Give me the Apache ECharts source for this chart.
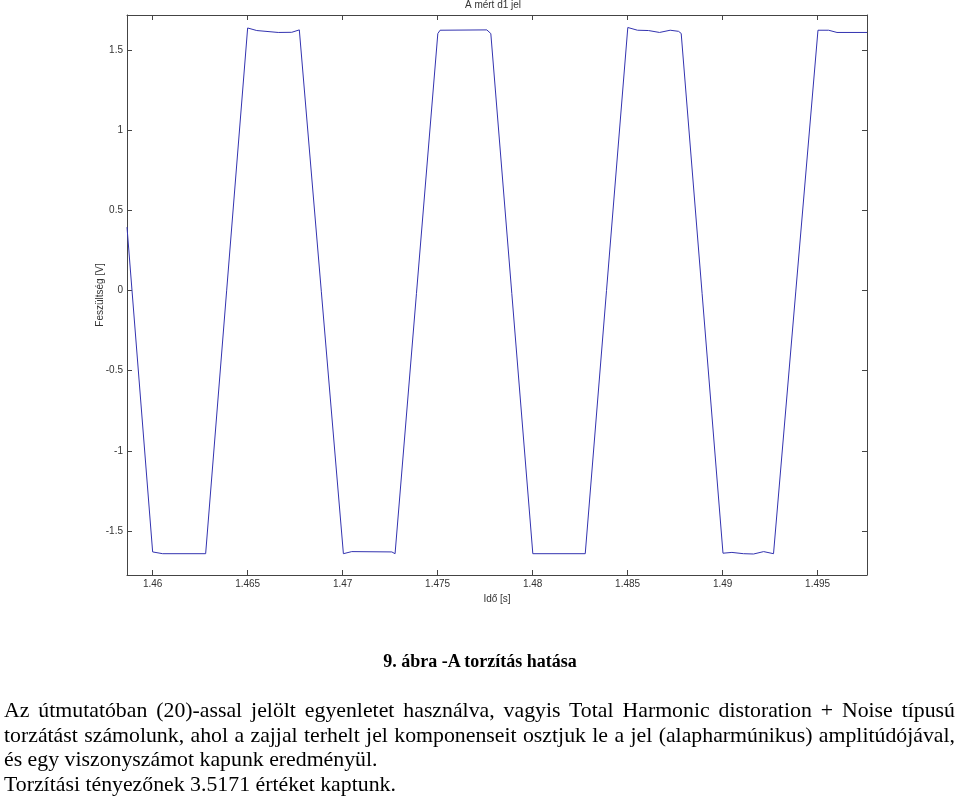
<!DOCTYPE html>
<html>
<head>
<meta charset="utf-8">
<script src="https://cdn.jsdelivr.net/npm/echarts@6/dist/echarts.min.js"></script>
<style>
html,body{margin:0;padding:0;background:#fff;}
#wrap{position:relative;width:960px;height:799px;overflow:hidden;background:#fff;}
#chart{position:absolute;left:0;top:0;width:960px;height:799px;}
.cap{position:absolute;left:0;top:650px;width:960px;text-align:center;font-family:'Liberation Serif','Times New Roman',serif;font-weight:bold;font-size:18px;line-height:22px;color:#000;white-space:nowrap;}
.ln{position:absolute;left:4px;width:951px;font-family:'Liberation Serif','Times New Roman',serif;font-size:21.8px;line-height:24.5px;color:#000;white-space:nowrap;}
.j{text-align:justify;text-align-last:justify;}
</style>
</head>
<body>
<div id="wrap">
<div id="chart"></div>
<div class="cap">9. ábra -A torzítás hatása</div>
<div class="ln j" style="top:698px">Az útmutatóban (20)-assal jelölt egyenletet használva, vagyis Total Harmonic distoration + Noise típusú</div>
<div class="ln j" style="top:722.5px">torzátást számolunk, ahol a zajjal terhelt jel komponenseit osztjuk le a jel (alapharmúnikus) amplitúdójával,</div>
<div class="ln" style="top:747px">és egy viszonyszámot kapunk eredményül.</div>
<div class="ln" style="top:771.5px">Torzítási tényezőnek 3.5171 értéket kaptunk.</div>
</div>
<script>
// Time stamps [s] of the polyline vertices
var timeS = [1.45865, 1.46000, 1.46053, 1.46279, 1.46500, 1.46548, 1.46661, 1.46732, 1.46772,
  1.47004, 1.47048, 1.47259, 1.47276, 1.47501, 1.47513, 1.47759, 1.47780,
  1.48001, 1.48277, 1.48501, 1.48552, 1.48610, 1.48668, 1.48724, 1.48768, 1.48782,
  1.49002, 1.49049, 1.49110, 1.49163, 1.49216, 1.49268, 1.49502, 1.49558, 1.49602, 1.49760];
// Measured voltage [V]
var voltageV = [0.396, -1.631, -1.642, -1.642, 1.639, 1.623, 1.611, 1.612, 1.627,
  -1.642, -1.629, -1.631, -1.642, 1.604, 1.625, 1.627, 1.604,
  -1.642, -1.642, 1.642, 1.625, 1.623, 1.611, 1.625, 1.618, 1.605,
  -1.639, -1.634, -1.642, -1.644, -1.629, -1.642, 1.625, 1.625, 1.611, 1.611];
// Tick values
var xTicks = [1.46, 1.465, 1.47, 1.475, 1.48, 1.485, 1.49, 1.495];
var yTicks = [-1.5, -1, -0.5, 0, 0.5, 1, 1.5];
var xRange = [1.45865, 1.4976];
var yRange = [-1.775, 1.72];

var titleText = 'A mért d1 jel';
var xName = 'Idő [s]';
var yName = 'Feszültség [V]';

var seriesData = timeS.map(function (t, i) { return [t, voltageV[i]]; });

var axisCol = '#444';
var labelFont = { fontFamily: "'Liberation Sans', Arial, sans-serif", fontSize: 10, color: '#333' };

function baseX(pos, showLabel) {
  return {
    type: 'value', position: pos, min: xRange[0], max: xRange[1],
    axisLine: { show: true, onZero: false, lineStyle: { color: axisCol, width: 1 } },
    axisTick: { show: true, inside: true, length: 5, customValues: xTicks, lineStyle: { color: axisCol } },
    axisLabel: Object.assign({ show: showLabel, margin: 4, customValues: xTicks }, labelFont),
    splitLine: { show: false }
  };
}
function baseY(pos, showLabel) {
  return {
    type: 'value', position: pos, min: yRange[0], max: yRange[1],
    axisLine: { show: true, onZero: false, lineStyle: { color: axisCol, width: 1 } },
    axisTick: { show: true, inside: true, length: 5, customValues: yTicks, lineStyle: { color: axisCol } },
    axisLabel: Object.assign({ show: showLabel, margin: 4, customValues: yTicks }, labelFont),
    splitLine: { show: false }
  };
}

var xb = baseX('bottom', true);
xb.name = xName; xb.nameLocation = 'middle'; xb.nameGap = 15;
xb.nameTextStyle = { fontFamily: "'Liberation Sans', Arial, sans-serif", fontSize: 10, color: '#333' };
var xt = baseX('top', false);
var yl = baseY('left', true);
yl.name = yName; yl.nameLocation = 'middle'; yl.nameGap = 22; yl.nameMoveOverlap = false;
yl.nameTextStyle = { fontFamily: "'Liberation Sans', Arial, sans-serif", fontSize: 10, color: '#333' };
var yr = baseY('right', false);

var chart = echarts.init(document.getElementById('chart'), null, { renderer: 'canvas' });
chart.setOption({
  animation: false,
  backgroundColor: '#fff',
  title: {
    text: titleText, left: 493, top: 0, textAlign: 'center', padding: 0,
    textStyle: { fontFamily: "'Liberation Sans', Arial, sans-serif", fontSize: 10, fontWeight: 'normal', color: '#333' }
  },
  grid: { left: 127, right: 93, top: 15, bottom: 224, containLabel: false, outerBoundsMode: 'none' },
  xAxis: [xb, xt],
  yAxis: [yl, yr],
  series: [{
    type: 'line', xAxisIndex: 0, yAxisIndex: 0,
    data: seriesData, showSymbol: false, symbol: 'none',
    lineStyle: { color: '#3333b0', width: 1 }
  }]
});
</script>
</body>
</html>
